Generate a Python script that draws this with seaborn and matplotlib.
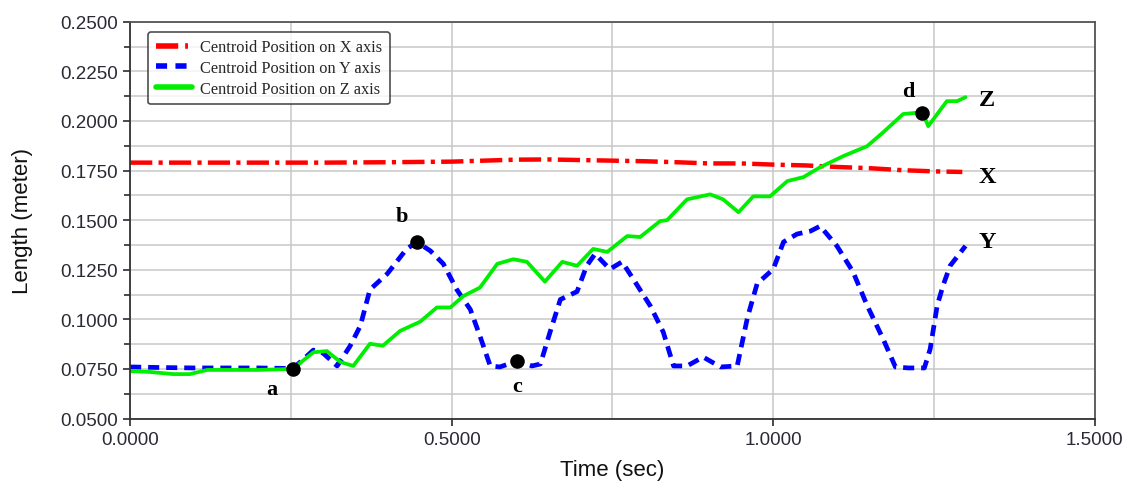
import numpy as np
import pandas as pd
import matplotlib
matplotlib.use("Agg")
import matplotlib.pyplot as plt
import seaborn as sns
from matplotlib.ticker import MultipleLocator, FormatStrFormatter
from matplotlib.lines import Line2D
from matplotlib import font_manager as fm
import matplotlib.patheffects as pe

# ---------------- data ----------------
t_x = [0, 0.1, 0.2, 0.3, 0.4, 0.5, 0.55, 0.6, 0.65, 0.7, 0.75, 0.8, 0.85, 0.9,
       0.95, 1.0, 1.05, 1.1, 1.15, 1.2, 1.25, 1.294]
x_val = [0.1790, 0.1790, 0.1790, 0.1790, 0.1792, 0.1795, 0.1800, 0.1805, 0.1806,
         0.1803, 0.1800, 0.1797, 0.1792, 0.1786, 0.1786, 0.1780, 0.1776, 0.1768,
         0.1762, 0.1752, 0.1746, 0.1743]

t_y = [0, 0.05, 0.1, 0.15, 0.2, 0.253, 0.27, 0.285, 0.30, 0.322, 0.342, 0.358,
       0.373, 0.40, 0.43, 0.446, 0.467, 0.487, 0.508, 0.529, 0.544, 0.56, 0.575,
       0.602, 0.625, 0.638, 0.653, 0.669, 0.695, 0.71, 0.723, 0.746, 0.765, 0.783,
       0.809, 0.829, 0.845, 0.866, 0.891, 0.918, 0.944, 0.96, 0.975, 1.0, 1.016,
       1.037, 1.058, 1.073, 1.099, 1.124, 1.146, 1.171, 1.19, 1.21, 1.235, 1.244,
       1.255, 1.264, 1.275, 1.299]
y_val = [0.0760, 0.0757, 0.0755, 0.0755, 0.0755, 0.0752, 0.0800, 0.0845, 0.0830,
         0.0765, 0.0865, 0.0967, 0.1150, 0.1230, 0.1355, 0.1390, 0.1345, 0.1280,
         0.1150, 0.1050, 0.0916, 0.0765, 0.0760, 0.0790, 0.0765, 0.0775, 0.0936,
         0.1100, 0.1140, 0.1270, 0.1330, 0.1253, 0.1290, 0.1200, 0.1067, 0.0936,
         0.0765, 0.0765, 0.0810, 0.0760, 0.0765, 0.1010, 0.1180, 0.1253, 0.1390,
         0.1430, 0.1445, 0.1470, 0.1370, 0.1240, 0.1070, 0.0900, 0.0760, 0.0755,
         0.0755, 0.0850, 0.1070, 0.1170, 0.1270, 0.1370]

t_z = [0, 0.03, 0.067, 0.093, 0.12, 0.16, 0.2, 0.253, 0.285, 0.306, 0.327, 0.347,
       0.373, 0.393, 0.42, 0.451, 0.477, 0.498, 0.518, 0.544, 0.571, 0.596, 0.617,
       0.645, 0.672, 0.695, 0.72, 0.742, 0.773, 0.793, 0.824, 0.835, 0.866, 0.902,
       0.922, 0.946, 0.969, 0.995, 1.022, 1.047, 1.073, 1.109, 1.146, 1.171, 1.202,
       1.232, 1.241, 1.255, 1.27, 1.286, 1.299]
z_val = [0.0739, 0.0735, 0.0724, 0.0724, 0.0745, 0.0745, 0.0745, 0.0750, 0.0834,
         0.0840, 0.0785, 0.0765, 0.0877, 0.0867, 0.0942, 0.0988, 0.1060, 0.1060,
         0.1117, 0.1160, 0.1280, 0.1303, 0.1290, 0.1190, 0.1290, 0.1270, 0.1355,
         0.1340, 0.1420, 0.1415, 0.1495, 0.1500, 0.1605, 0.1630, 0.1605, 0.1540,
         0.1620, 0.1620, 0.1697, 0.1717, 0.1767, 0.1823, 0.1873, 0.1943, 0.2035,
         0.2044, 0.1974, 0.2035, 0.2100, 0.2100, 0.2120]

pt_labels = ["a", "b", "c", "d"]
pt_t = [0.253, 0.446, 0.602, 1.232]
pt_v = [0.0750, 0.1390, 0.0790, 0.2040]
lbl_t = [0.221, 0.423, 0.602, 1.210]
lbl_v = [0.0650, 0.1520, 0.0665, 0.2150]

end_labels = ["X", "Y", "Z"]
end_t = [1.333, 1.333, 1.333]
end_v = [0.1722, 0.1390, 0.2110]

legend_labels = ["Centroid Position on X axis", "Centroid Position on Y axis",
                 "Centroid Position on Z axis"]
x_ticks = [0.0, 0.5, 1.0, 1.5]
y_ticks = [0.05, 0.075, 0.1, 0.125, 0.15, 0.175, 0.2, 0.225, 0.25]

# ---------------- style ----------------
sns.set_style("white")
plt.rcParams["font.family"] = ["Liberation Sans", "DejaVu Sans"]
plt.rcParams["lines.scale_dashes"] = False

bold_path = fm.findfont(fm.FontProperties(family="Liberation Serif", weight="bold"))
bold_fp = fm.FontProperties(fname=bold_path)
need_stroke = "bold" not in bold_path.lower()

fig = plt.figure(figsize=(11.31, 4.85), dpi=100)
ax = fig.add_axes([0.115, 0.135, 0.853, 0.818])

red, blue, green = "#ff0000", "#0000ff", "#00ee00"
ls_x = (0, (16, 4.5, 3, 4.5))
ls_y = (0, (8, 5))

sns.lineplot(x=t_x, y=x_val, ax=ax, color=red, lw=3.2, sort=False)
sns.lineplot(x=t_y, y=y_val, ax=ax, color=blue, lw=3.4, sort=False)
sns.lineplot(x=t_z, y=z_val, ax=ax, color=green, lw=2.7, sort=False)
lines = ax.get_lines()
lines[0].set_linestyle(ls_x)
lines[1].set_linestyle(ls_y)

sns.scatterplot(x=pt_t, y=pt_v, ax=ax, color="black", s=110, zorder=5,
                edgecolor="black", linewidth=0)

effects = [pe.withStroke(linewidth=0.9, foreground="black")] if need_stroke else []
for lab, tx, ty in zip(pt_labels, lbl_t, lbl_v):
    t = ax.text(tx, ty, lab, fontproperties=bold_fp, fontsize=16,
                ha="center", va="center", color="black")
    t.set_path_effects(effects)
for lab, tx, ty in zip(end_labels, end_t, end_v):
    t = ax.text(tx, ty, lab, fontproperties=bold_fp, fontsize=17.5,
                ha="center", va="center", color="black")
    t.set_path_effects(effects)

ax.set_xlim(0, 1.5)
ax.set_ylim(0.05, 0.25)
ax.set_xticks(x_ticks)
ax.set_yticks(y_ticks)
ax.xaxis.set_minor_locator(MultipleLocator(0.25))
ax.yaxis.set_minor_locator(MultipleLocator(0.0125))
ax.xaxis.set_major_formatter(FormatStrFormatter("%.4f"))
ax.yaxis.set_major_formatter(FormatStrFormatter("%.4f"))
ax.grid(True, which="both", color="#c8c8c8", lw=1.1)
ax.set_axisbelow(True)

ax.tick_params(axis="both", which="major", direction="out", length=5, width=1.2,
               labelsize=13.5, colors="#2a2a35", left=True, bottom=True, pad=4)
ax.tick_params(axis="y", which="minor", direction="out", length=4, width=1.2,
               left=True, colors="#2a2a35")
ax.tick_params(axis="x", which="minor", length=0)
for s in ax.spines.values():
    s.set_color("#333333")
    s.set_linewidth(1.3)
ax.spines["right"].set_color("#555555")
ax.spines["top"].set_color("#555555")

ax.set_xlabel("Time (sec)", fontsize=16, color="#111111", labelpad=8)
ax.set_ylabel("Length (meter)", fontsize=16, color="#111111", labelpad=19)

handles = [Line2D([], [], color=red, lw=4, linestyle=(0, (16, 5, 2, 5))),
           Line2D([], [], color=blue, lw=4, linestyle=(0, (8, 6))),
           Line2D([], [], color=green, lw=4)]
leg = ax.legend(handles, legend_labels, loc="upper left",
                bbox_to_anchor=(0.019, 0.974), frameon=True, fancybox=True,
                prop={"family": "Liberation Serif", "size": 11.8},
                handlelength=2.2, handletextpad=0.5, borderpad=0.45,
                labelspacing=0.28, borderaxespad=0)
frame = leg.get_frame()
frame.set_edgecolor("#222222")
frame.set_linewidth(1.2)
frame.set_boxstyle("round,pad=0,rounding_size=0.15")

fig.savefig("out.png", dpi=100)
